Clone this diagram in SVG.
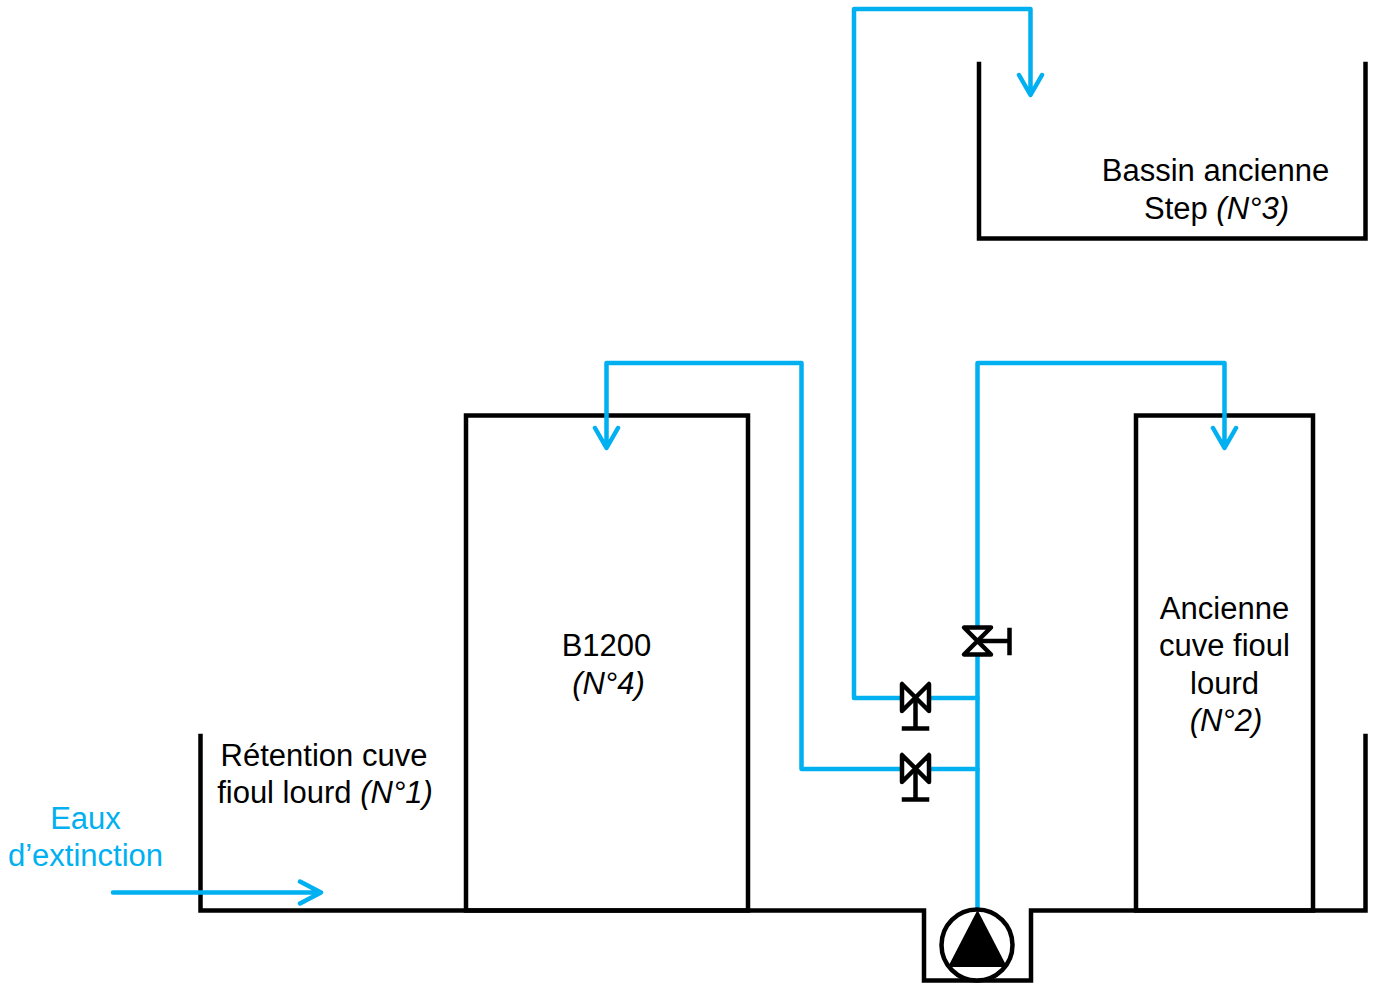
<svg xmlns="http://www.w3.org/2000/svg" width="1377" height="983" viewBox="0 0 1377 983">
<style>
.k{fill:none;stroke:#000;stroke-width:4.5;stroke-linecap:square;stroke-linejoin:miter}
.v{fill:#fff;stroke:#000;stroke-width:4.5;stroke-linecap:round;stroke-linejoin:round}
.b{fill:none;stroke:#00B0F0;stroke-width:4.5;stroke-linecap:round;stroke-linejoin:round}
.t{font-family:"Liberation Sans",Arial,sans-serif;font-size:31px;fill:#000;text-anchor:middle}
.c{fill:#00B0F0}
.i{font-style:italic}
</style>
<g id="retention"><path class="k" d="M200.500 736V910.500H924V980.500H1031V910.500H1365.500V736"/><text class="t" x="324" y="766">Rétention cuve</text><text class="t" x="325" y="803">fioul lourd <tspan class="i">(N°1)</tspan></text></g>
<g id="b1200"><rect class="k" x="466" y="415.500" width="282" height="495"/><text class="t" x="606.500" y="656">B1200</text><text class="t i" x="608.500" y="694">(N°4)</text></g>
<g id="ancienne-cuve"><rect class="k" x="1136" y="415.500" width="177" height="495"/><text class="t" x="1224.500" y="619">Ancienne</text><text class="t" x="1224.500" y="656">cuve fioul</text><text class="t" x="1224.500" y="694">lourd</text><text class="t i" x="1226" y="731">(N°2)</text></g>
<g id="bassin"><path class="k" d="M979 64V238.500H1365.500V64"/><text class="t" x="1215.500" y="181">Bassin ancienne</text><text class="t" x="1216.500" y="219">Step <tspan class="i">(N°3)</tspan></text></g>
<g id="eaux"><text class="t c" x="85.500" y="829">Eaux</text><text class="t c" x="85.500" y="866">d’extinction</text></g>
<g id="connectors">
<path class="b" d="M977.500 910V363H1224.500V447M1213 428L1224.500 448L1236 428"/>
<path class="b" d="M977.500 769H801.500V363H606.500V447M595 428L606.500 448L618 428"/>
<path class="b" d="M977.500 698H854V9H1030.500V94M1019 75L1030.500 95L1042 75"/>
<path class="b" d="M113 892.500H320M300 881.500L321 892.500L300 903.500"/>
</g>
<g id="valve-top"><path class="v" d="M964 627.500H991L964 654.500H991Z"/><path class="k" d="M978 641H1009M1009.500 630V653"/></g>
<g id="valve-mid"><path class="v" d="M902 684V711L929 684V711Z"/><path class="k" d="M915.500 698V728M904 728.500H927"/></g>
<g id="valve-low"><path class="v" d="M902 755V782L929 755V782Z"/><path class="k" d="M915.500 769V799M904 799.500H927"/></g>
<g id="pump"><circle cx="977" cy="945" r="35.500" fill="#fff" stroke="#000" stroke-width="4.500"/><path d="M977.500 910L1007 967H948Z" fill="#000"/></g>
</svg>
